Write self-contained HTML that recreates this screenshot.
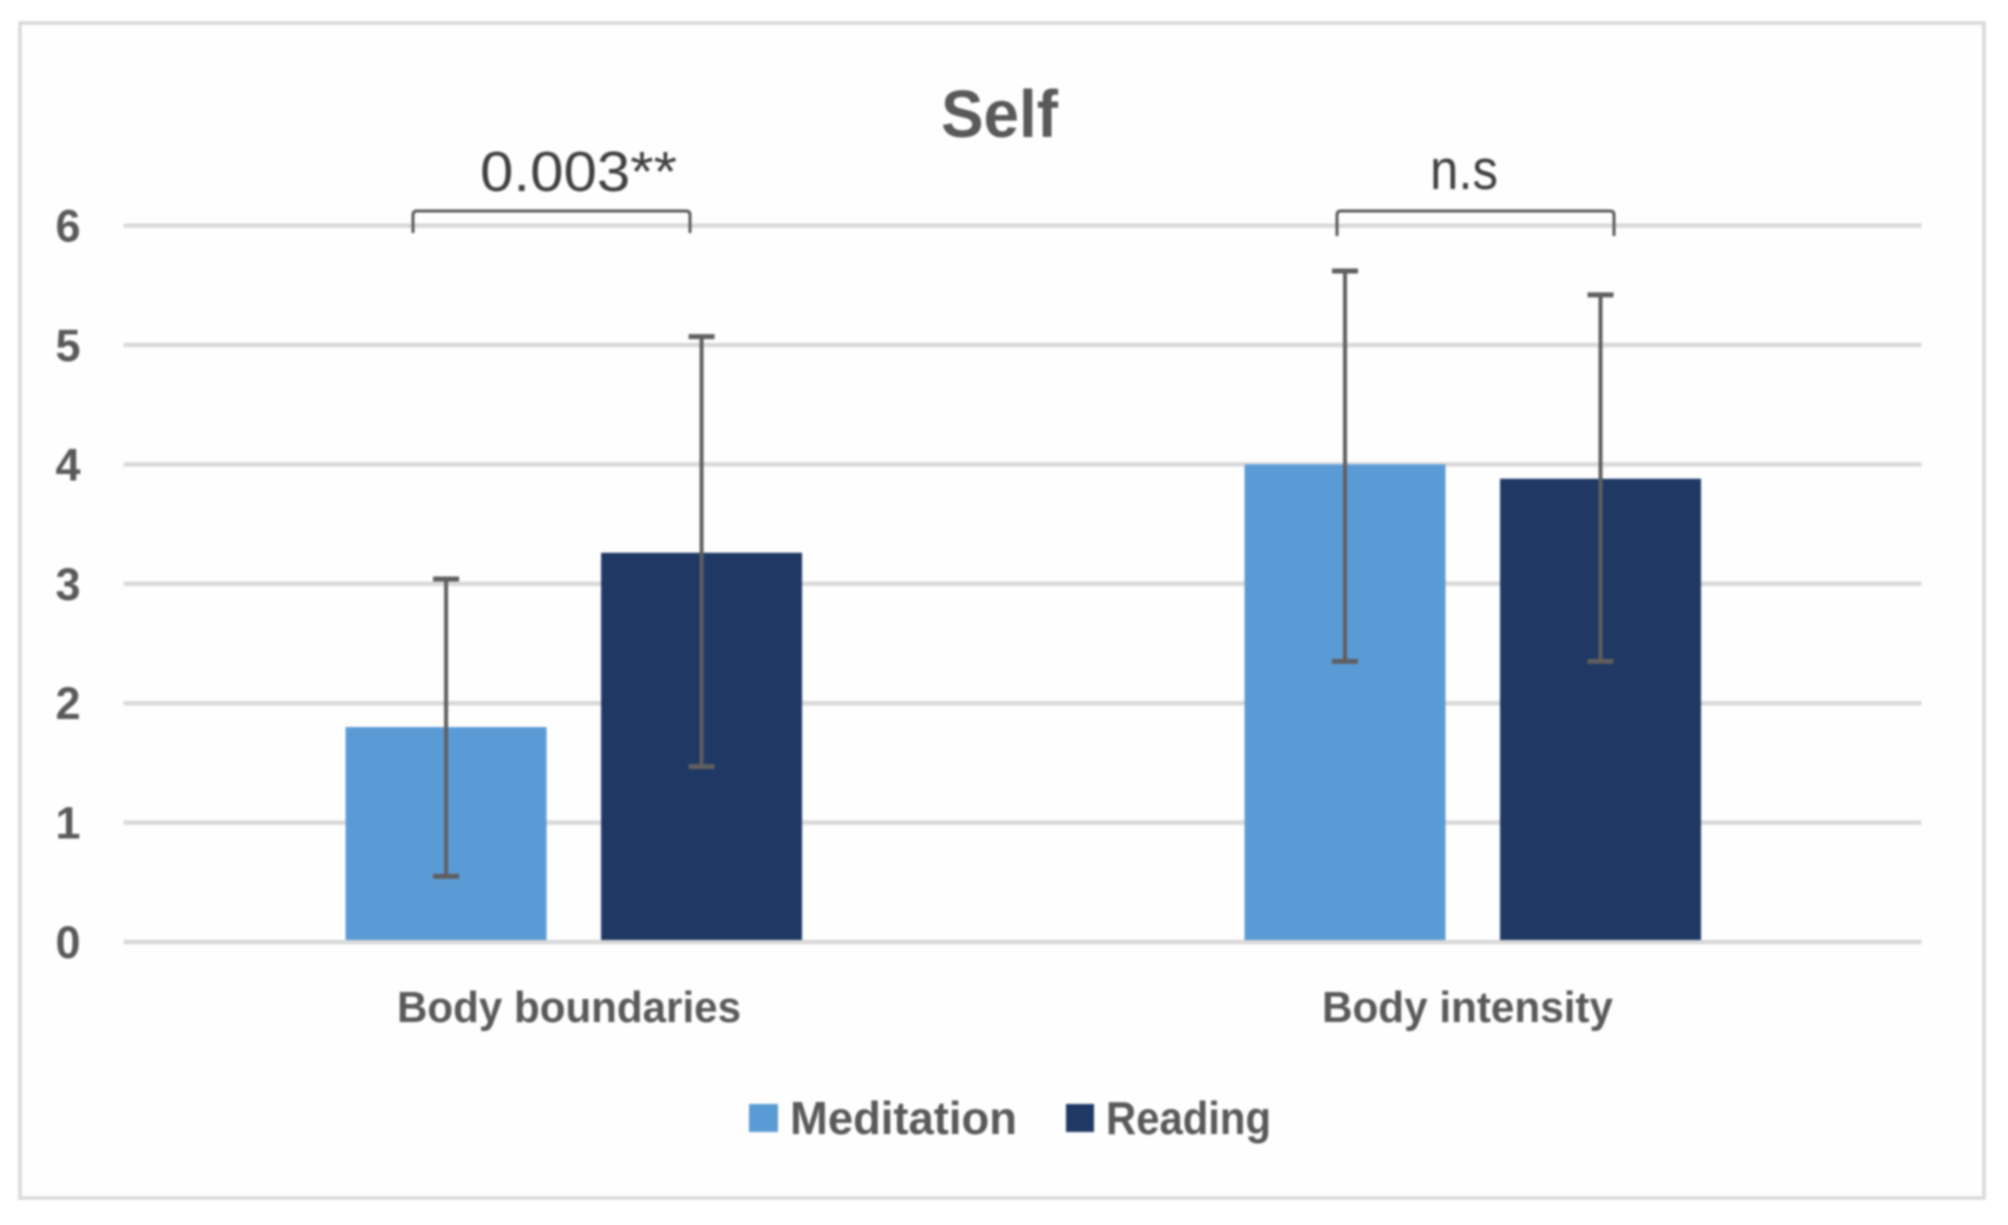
<!DOCTYPE html>
<html lang="en">
<head>
<meta charset="utf-8">
<title>Self</title>
<style>
html,body{margin:0;padding:0;background:#fff;}
body{width:2008px;height:1225px;overflow:hidden;}
svg{display:block;filter:blur(1px);}
text{font-family:"Liberation Sans",sans-serif;fill:#595959;}
</style>
</head>
<body>
<svg id="chart" width="2008" height="1225" viewBox="0 0 2008 1225" xmlns="http://www.w3.org/2000/svg">
  <rect x="20" y="23" width="1964" height="1175" fill="#fefefe" stroke="#d9d9d9" stroke-width="3.5"/>
  <g id="grid"></g>
  <g id="yticks"></g>
  <g id="bars"></g>
  <g id="errors"></g>

  <text x="941" y="137" font-size="67" font-weight="bold" textLength="117" lengthAdjust="spacingAndGlyphs">Self</text>

  <path d="M413 233V215Q413 211 417 211H686Q690 211 690 215V233" fill="none" stroke="#595959" stroke-width="3"/>
  <text x="480" y="191" font-size="57" textLength="197" lengthAdjust="spacingAndGlyphs" style="fill:#404040">0.003**</text>
  <path d="M1337 236V215Q1337 211 1341 211H1610Q1614 211 1614 215V236" fill="none" stroke="#595959" stroke-width="3"/>
  <text x="1430" y="189" font-size="57" textLength="68" lengthAdjust="spacingAndGlyphs" style="fill:#404040">n.s</text>

  <text x="397" y="1022" font-size="44" font-weight="bold" textLength="344" lengthAdjust="spacingAndGlyphs">Body boundaries</text>
  <text x="1322" y="1022" font-size="44" font-weight="bold" textLength="291" lengthAdjust="spacingAndGlyphs">Body intensity</text>

  <g>
    <g>
      <rect x="749" y="1104" width="29" height="28" fill="#5b9bd5"/>
      <text x="790" y="1134" font-size="46" font-weight="bold" textLength="227" lengthAdjust="spacingAndGlyphs">Meditation</text>
    </g>
    <g>
      <rect x="1066" y="1104" width="28" height="28" fill="#1f3864"/>
      <text x="1106" y="1134" font-size="46" font-weight="bold" textLength="165" lengthAdjust="spacingAndGlyphs">Reading</text>
    </g>
  </g>
</svg>
<script>
const tickValues = [0, 1, 2, 3, 4, 5, 6];
const categories = ["Body boundaries", "Body intensity"];
const seriesNames = ["Meditation", "Reading"];
const meditationValues = [1.80, 4.00];
const readingValues = [3.26, 3.88];
const meditationErrorLow = [0.55, 2.35];
const meditationErrorHigh = [3.04, 5.62];
const readingErrorLow = [1.47, 2.35];
const readingErrorHigh = [5.07, 5.42];

const NS = "http://www.w3.org/2000/svg";
const plot = { left: 123.6, right: 1921.5, zeroY: 942, unit: 119.4 };
const barWidth = 201;
const meditationOffset = -127;
const readingOffset = 128.5;
const capWidth = 26;

function yScale(v) { return plot.zeroY - v * plot.unit; }
function xCenter(i) {
  const band = (plot.right - plot.left) / categories.length;
  return plot.left + band * (i + 0.5);
}
function seriesX(i, s) { return xCenter(i) + (s === 0 ? meditationOffset : readingOffset); }
function make(tag, attrs) {
  const el = document.createElementNS(NS, tag);
  for (const k in attrs) el.setAttribute(k, attrs[k]);
  return el;
}

const gridG = document.getElementById("grid");
const tickG = document.getElementById("yticks");
tickValues.forEach(function (t) {
  const line = make("line", { x1: plot.left, x2: plot.right, y1: yScale(t), y2: yScale(t), stroke: "#d9d9d9", "stroke-width": 4.5 });
  
  
  gridG.appendChild(line);
  const label = make("text", { x: 68, y: yScale(t) + 16, "font-size": 45, "font-weight": "bold", "text-anchor": "middle" });
  
  
  label.textContent = String(t);
  tickG.appendChild(label);
});

const barsG = document.getElementById("bars");
const errG = document.getElementById("errors");
function drawSeries(s, values, low, high, color) {
  values.forEach(function (v, i) {
    const cx = seriesX(i, s);
    const bar = make("rect", { x: cx - barWidth / 2, y: yScale(v), width: barWidth, height: yScale(0) - 2 - yScale(v), fill: color });
    
    
    barsG.appendChild(bar);

    const yHigh = yScale(high[i]);
    const yLow = yScale(low[i]);
    const stem = make("line", { x1: cx, x2: cx, y1: yHigh, y2: yLow, stroke: "#5f5f5f", "stroke-width": 4 });
    
    
    errG.appendChild(stem);

    const capTop = make("line", { x1: cx - capWidth / 2, x2: cx + capWidth / 2, y1: yHigh, y2: yHigh, stroke: "#5f5f5f", "stroke-width": 5 });
    
    
    errG.appendChild(capTop);

    const capBottom = make("line", { x1: cx - capWidth / 2, x2: cx + capWidth / 2, y1: yLow, y2: yLow, stroke: "#5f5f5f", "stroke-width": 5 });
    
    
    errG.appendChild(capBottom);
  });
}
drawSeries(0, meditationValues, meditationErrorLow, meditationErrorHigh, "#5b9bd5");
drawSeries(1, readingValues, readingErrorLow, readingErrorHigh, "#1f3864");
</script>
</body>
</html>
